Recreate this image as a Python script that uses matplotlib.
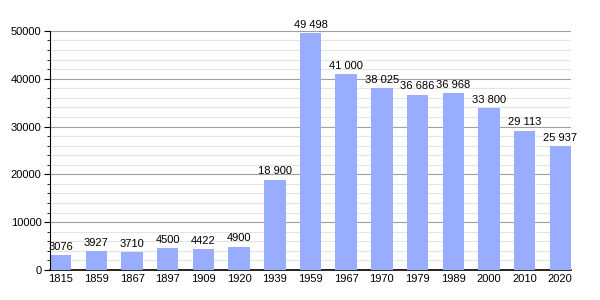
import matplotlib.pyplot as plt
from matplotlib.ticker import MultipleLocator

plt.rcParams['font.family'] = ['Liberation Sans', 'DejaVu Sans']

# data
years = ['1815', '1859', '1867', '1897', '1909', '1920', '1939', '1959',
         '1967', '1970', '1979', '1989', '2000', '2010', '2020']
population = [3076, 3927, 3710, 4500, 4422, 4900, 18900, 49498,
              41000, 38025, 36686, 36968, 33800, 29113, 25937]
labels = ['3076', '3927', '3710', '4500', '4422', '4900', '18 900', '49 498',
          '41 000', '38 025', '36 686', '36 968', '33 800', '29 113', '25 937']

fig = plt.figure(figsize=(6, 3), dpi=100)
ax = fig.add_axes([50/600, 0.1, 521/600, 0.797])

xs = range(len(years))
ax.bar(xs, population, width=0.6, color='#99adff', zorder=3)
for x, v, t in zip(xs, population, labels):
    ax.text(x, v + 700, t, ha='center', va='bottom', fontsize=8, zorder=4)

ax.set_xlim(-0.3, len(years) - 0.7)
ax.set_ylim(0, 50000)
ax.set_xticks(list(xs))
ax.set_xticklabels(years, fontsize=8)
ax.tick_params(axis='x', length=0, pad=3)
ax.yaxis.set_major_locator(MultipleLocator(10000))
ax.yaxis.set_minor_locator(MultipleLocator(2000))
ax.tick_params(axis='y', which='major', length=4, labelsize=8, pad=2)
ax.tick_params(axis='y', which='minor', length=2)
ax.grid(axis='y', which='major', color='#a0a0a0', linewidth=0.8, zorder=0)
ax.grid(axis='y', which='minor', color='#e4e4e4', linewidth=0.8, zorder=0)
for s in ['top', 'right']:
    ax.spines[s].set_visible(False)
ax.spines['left'].set_zorder(5)
ax.spines['bottom'].set_linewidth(1.2)

fig.savefig('out.png', dpi=100)
